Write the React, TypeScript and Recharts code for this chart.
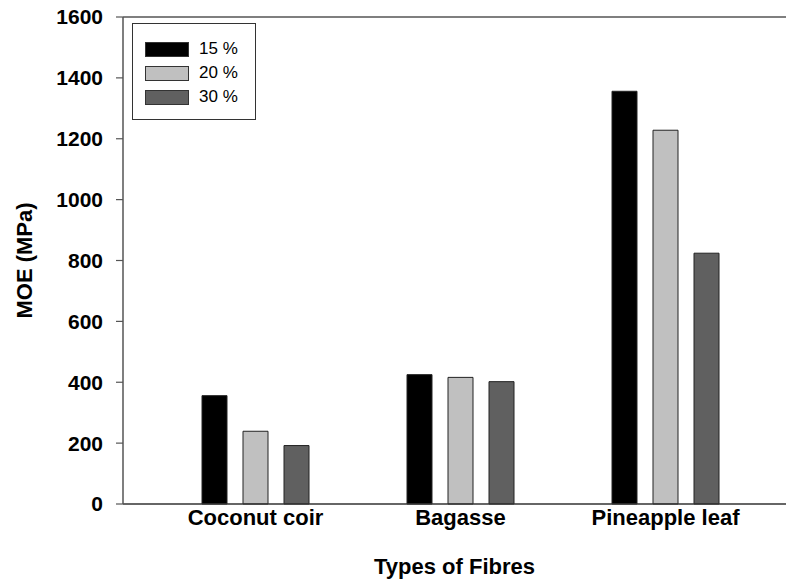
import React from "react";
import { BarChart, Bar, XAxis, YAxis, ReferenceLine, Label } from "recharts";

const categories = ["Coconut coir", "Bagasse", "Pineapple leaf"];
const series15 = [356, 425, 1356];
const series20 = [239, 416, 1228];
const series30 = [192, 402, 824];
const yTicks = [0, 200, 400, 600, 800, 1000, 1200, 1400, 1600];

const seriesInfo = [
  { key: "s15", name: "15 %", color: "#000000" },
  { key: "s20", name: "20 %", color: "#c0c0c0" },
  { key: "s30", name: "30 %", color: "#606060" },
];

const data = categories.map((c, i) => ({
  name: c,
  s15: series15[i],
  s20: series20[i],
  s30: series30[i],
}));

const FONT = "Arial, 'Liberation Sans', sans-serif";

const LegendBox = () => (
  <div
    style={{
      position: "absolute",
      left: 132,
      top: 23,
      width: 124,
      height: 97,
      border: "1px solid #333",
      boxSizing: "border-box",
      background: "#fff",
      fontFamily: FONT,
    }}
  >
    {seriesInfo.map((s, i) => (
      <div
        key={s.key}
        style={{
          position: "absolute",
          left: 12,
          top: 17 + i * 24,
          height: 16,
          display: "flex",
          alignItems: "center",
        }}
      >
        <div
          style={{
            width: 44,
            height: 15,
            background: s.color,
            border: "1px solid #333",
            boxSizing: "border-box",
          }}
        />
        <span style={{ marginLeft: 10, fontSize: 17, color: "#000" }}>{s.name}</span>
      </div>
    ))}
  </div>
);

export default function App() {
  return (
    <div style={{ position: "absolute", left: 0, top: 0, width: 786, height: 579, background: "#fff" }}>
      <BarChart
        width={786}
        height={579}
        data={data}
        margin={{ top: 17, right: 0, bottom: 45, left: 0 }}
        barSize={25}
        barGap={16}
      >
        <XAxis
          dataKey="name"
          padding={{ left: 30, right: 18 }}
          tickLine={false}
          tickSize={0}
          tickMargin={5}
          height={30}
          axisLine={{ stroke: "#333", strokeWidth: 1.5 }}
          tick={{ fill: "#000", fontSize: 22, fontWeight: "bold", fontFamily: FONT }}
          interval={0}
        >
          <Label
            content={() => (
              <text
                x={454.5}
                y={566}
                textAnchor="middle"
                dominantBaseline="central"
                fontSize={22}
                fontWeight="bold"
                fontFamily={FONT}
                fill="#000"
              >
                Types of Fibres
              </text>
            )}
          />
        </XAxis>
        <YAxis
          width={123}
          domain={[0, 1600]}
          ticks={yTicks}
          interval={0}
          tickSize={7}
          tickMargin={13}
          axisLine={{ stroke: "#555", strokeWidth: 1.5 }}
          tickLine={{ stroke: "#555", strokeWidth: 1.2 }}
          tick={{ fill: "#000", fontSize: 21, fontWeight: "bold", fontFamily: FONT }}
        >
          <Label
            content={() => (
              <text
                x={24}
                y={260.5}
                transform="rotate(-90 24 260.5)"
                textAnchor="middle"
                dominantBaseline="central"
                fontSize={22}
                fontWeight="bold"
                fontFamily={FONT}
                fill="#000"
              >
                MOE (MPa)
              </text>
            )}
          />
        </YAxis>
        <ReferenceLine y={1600} stroke="#555" strokeWidth={1.5} />
        {seriesInfo.map((s) => (
          <Bar
            key={s.key}
            dataKey={s.key}
            name={s.name}
            fill={s.color}
            stroke="#222"
            strokeWidth={1}
            isAnimationActive={false}
          />
        ))}
      </BarChart>
      <LegendBox />
    </div>
  );
}
